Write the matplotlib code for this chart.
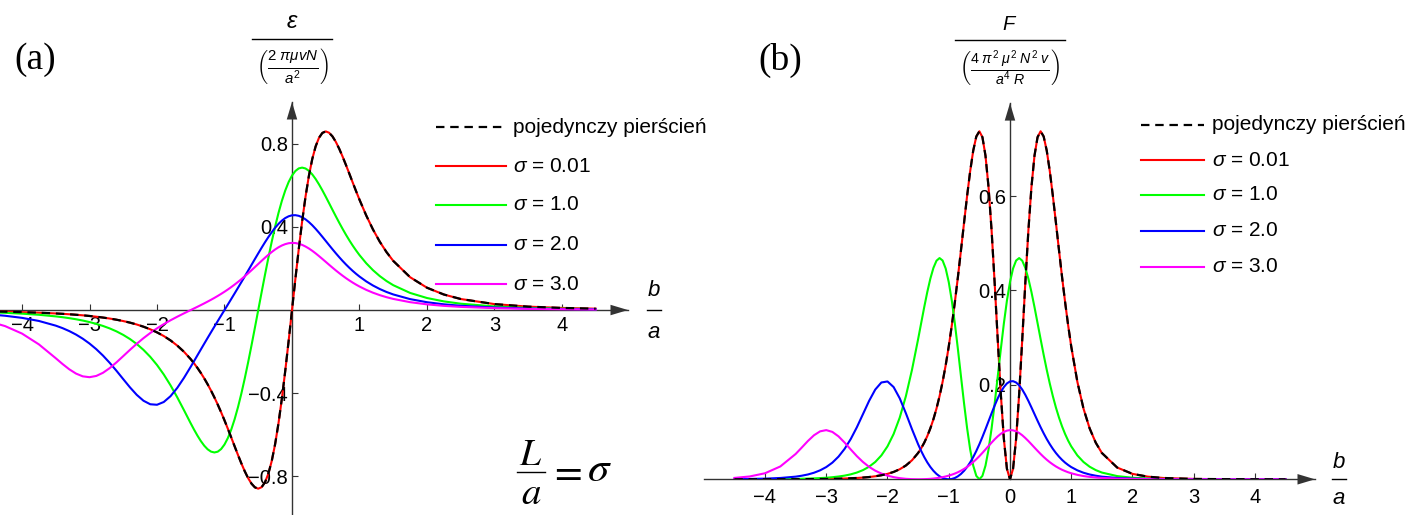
import matplotlib
matplotlib.use('Agg')
import matplotlib.pyplot as plt
from matplotlib.lines import Line2D

plt.rcParams['font.family'] = ['Liberation Sans', 'DejaVu Sans']
plt.rcParams['mathtext.fontset'] = 'custom'
plt.rcParams['mathtext.rm'] = 'Liberation Sans'
plt.rcParams['mathtext.it'] = 'Liberation Sans:italic'
plt.rcParams['mathtext.bf'] = 'Liberation Sans:bold'

# b/a positions shared by every curve
b = [-4.5, -4.25, -4.0, -3.75,
     -3.5, -3.4, -3.3, -3.2, -3.1, -3.0, -2.9, -2.8, -2.7, -2.6,
     -2.5, -2.4, -2.3, -2.2, -2.1, -2.0, -1.9, -1.8, -1.7, -1.6,
     -1.5, -1.4, -1.3, -1.2, -1.1, -1.0, -0.9, -0.8, -0.7, -0.6,
     -0.5, -0.4, -0.3, -0.2, -0.1, 0.0, 0.1, 0.2, 0.3, 0.4,
     0.5, 0.6, 0.7, 0.8, 0.9, 1.0, 1.1, 1.2, 1.3, 1.4, 1.5,
     1.75, 2.0, 2.25, 2.5, 3.0, 3.5, 4.0, 4.5]
# extra samples around the sharp central part
b_mid = [-1.45, -1.35, -1.25, -1.15, -1.05, -0.95, -0.85, -0.75, -0.65, -0.55,
         -0.45, -0.35, -0.25, -0.15, -0.05, 0.05, 0.15, 0.25, 0.35, 0.45,
         0.55, 0.65, 0.75, 0.85, 0.95]

# (a) energy, single ring and rings spread over L = sigma*a
eps_single = [-0.0065, -0.0080, -0.0101, -0.0128,
              -0.0164, -0.0182, -0.0203, -0.0227, -0.0254, -0.0285, -0.0320, -0.0362, -0.0409, -0.0465,
              -0.0530, -0.0606, -0.0695, -0.0801, -0.0925, -0.1073, -0.1249, -0.1459, -0.1709, -0.2007,
              -0.2363, -0.2786, -0.3286, -0.3871, -0.4545, -0.5303, -0.6126, -0.6968, -0.7749, -0.8345,
              -0.8587, -0.8280, -0.7256, -0.5440, -0.2926, 0.0, 0.2926, 0.5440, 0.7256, 0.8280,
              0.8587, 0.8345, 0.7749, 0.6968, 0.6126, 0.5303, 0.4545, 0.3871, 0.3286, 0.2786, 0.2363,
              0.1578, 0.1073, 0.0746, 0.0530, 0.0285, 0.0164, 0.0101, 0.0065]
eps_single_mid = [-0.2566, -0.3026, -0.3568, -0.4197, -0.4914, -0.5709, -0.6549, -0.7373, -0.8080, -0.8522,
                  -0.8514, -0.7865, -0.6445, -0.4257, -0.1491, 0.1491, 0.4257, 0.6445, 0.7865, 0.8514,
                  0.8522, 0.8080, 0.7373, 0.6549, 0.5709]
eps_s001 = eps_single
eps_s001_mid = eps_single_mid
eps_s1 = [-0.0105, -0.0134, -0.0174, -0.0228,
          -0.0305, -0.0344, -0.0390, -0.0443, -0.0505, -0.0578, -0.0664, -0.0765, -0.0884, -0.1026,
          -0.1195, -0.1395, -0.1633, -0.1915, -0.2249, -0.2641, -0.3096, -0.3616, -0.4195, -0.4816,
          -0.5449, -0.6040, -0.6521, -0.6805, -0.6808, -0.6464, -0.5745, -0.4667, -0.3289, -0.1699,
          0.0, 0.1699, 0.3289, 0.4667, 0.5745, 0.6464, 0.6808, 0.6805, 0.6521, 0.6040,
          0.5449, 0.4816, 0.4195, 0.3616, 0.3096, 0.2641, 0.2249, 0.1915, 0.1633, 0.1395, 0.1195,
          0.0822, 0.0578, 0.0416, 0.0305, 0.0174, 0.0105, 0.0067, 0.0045]
eps_s1_mid = [-0.5754, -0.6300, -0.6693, -0.6846, -0.6682, -0.6152, -0.5248, -0.4011, -0.2514, -0.0856,
              0.0856, 0.2514, 0.4011, 0.5248, 0.6152, 0.6682, 0.6846, 0.6693, 0.6300, 0.5754,
              0.5134, 0.4502, 0.3899, 0.3348, 0.2861]
eps_s2 = [-0.0205, -0.0275, -0.0376, -0.0525,
          -0.0750, -0.0869, -0.1011, -0.1179, -0.1377, -0.1610, -0.1880, -0.2190, -0.2540, -0.2921,
          -0.3322, -0.3718, -0.4077, -0.4360, -0.4529, -0.4553, -0.4421, -0.4142, -0.3742, -0.3258,
          -0.2724, -0.2171, -0.1616, -0.1069, -0.0531, 0.0, 0.0531, 0.1069, 0.1616, 0.2171,
          0.2724, 0.3258, 0.3742, 0.4142, 0.4421, 0.4553, 0.4529, 0.4360, 0.4077, 0.3718,
          0.3322, 0.2921, 0.2540, 0.2190, 0.1880, 0.1610, 0.1377, 0.1179, 0.1011, 0.0869, 0.0750,
          0.0525, 0.0376, 0.0275, 0.0205, 0.0120, 0.0075, 0.0049, 0.0033]
eps_s2_mid = [-0.2449, -0.1893, -0.1341, -0.0799, -0.0265, 0.0265, 0.0799, 0.1341, 0.1893, 0.2449,
              0.2995, 0.3508, 0.3955, 0.4298, 0.4506, 0.4560, 0.4461, 0.4230, 0.3904, 0.3522,
              0.3120, 0.2727, 0.2360, 0.2030, 0.1740]
eps_s3 = [-0.0535, -0.0773, -0.1131, -0.1650,
          -0.2316, -0.2593, -0.2848, -0.3054, -0.3187, -0.3228, -0.3168, -0.3016, -0.2789, -0.2514,
          -0.2214, -0.1912, -0.1621, -0.1351, -0.1104, -0.0880, -0.0678, -0.0493, -0.0321, -0.0158,
          0.0, 0.0158, 0.0321, 0.0493, 0.0678, 0.0880, 0.1104, 0.1351, 0.1621, 0.1912,
          0.2214, 0.2514, 0.2789, 0.3016, 0.3168, 0.3228, 0.3187, 0.3054, 0.2848, 0.2593,
          0.2316, 0.2038, 0.1774, 0.1532, 0.1318, 0.1131, 0.0970, 0.0833, 0.0717, 0.0618, 0.0535,
          0.0378, 0.0273, 0.0201, 0.0152, 0.0091, 0.0057, 0.0038, 0.0026]
eps_s3_mid = [0.0079, 0.0239, 0.0406, 0.0583, 0.0777, 0.0989, 0.1224, 0.1483, 0.1765, 0.2063,
              0.2366, 0.2656, 0.2911, 0.3103, 0.3211, 0.3220, 0.3132, 0.2959, 0.2725, 0.2456,
              0.2176, 0.1903, 0.1650, 0.1422, 0.1221]

# (b) force
F_single = [0.0000, 0.0001, 0.0001, 0.0002,
            0.0003, 0.0003, 0.0004, 0.0005, 0.0006, 0.0008, 0.0010, 0.0013, 0.0017, 0.0022,
            0.0028, 0.0037, 0.0048, 0.0064, 0.0086, 0.0115, 0.0156, 0.0213, 0.0292, 0.0403,
            0.0558, 0.0776, 0.1080, 0.1499, 0.2066, 0.2813, 0.3753, 0.4855, 0.6005, 0.6964,
            0.7373, 0.6856, 0.5264, 0.2959, 0.0856, 0.0, 0.0856, 0.2959, 0.5264, 0.6856,
            0.7373, 0.6964, 0.6005, 0.4855, 0.3753, 0.2813, 0.2066, 0.1499, 0.1080, 0.0776, 0.0558,
            0.0249, 0.0115, 0.0056, 0.0028, 0.0008, 0.0003, 0.0001, 0.0000]
F_single_mid = [0.0658, 0.0916, 0.1273, 0.1761, 0.2415, 0.3259, 0.4288, 0.5436, 0.6528, 0.7262,
                0.7248, 0.6187, 0.4154, 0.1812, 0.0222, 0.0222, 0.1812, 0.4154, 0.6187, 0.7248,
                0.7262, 0.6528, 0.5436, 0.4288, 0.3259]
F_s001 = F_single
F_s001_mid = F_single_mid
F_s1 = [0.0001, 0.0002, 0.0003, 0.0005,
        0.0009, 0.0012, 0.0015, 0.0020, 0.0026, 0.0033, 0.0044, 0.0059, 0.0078, 0.0105,
        0.0143, 0.0195, 0.0267, 0.0367, 0.0506, 0.0698, 0.0959, 0.1308, 0.1760, 0.2320,
        0.2969, 0.3649, 0.4252, 0.4631, 0.4635, 0.4179, 0.3301, 0.2178, 0.1082, 0.0289,
        0.0, 0.0289, 0.1082, 0.2178, 0.3301, 0.4179, 0.4635, 0.4631, 0.4252, 0.3649,
        0.2969, 0.2320, 0.1760, 0.1308, 0.0959, 0.0698, 0.0506, 0.0367, 0.0267, 0.0195, 0.0143,
        0.0068, 0.0033, 0.0017, 0.0009, 0.0003, 0.0001, 0.0000, 0.0000]
F_s1_mid = [0.3310, 0.3969, 0.4479, 0.4687, 0.4466, 0.3785, 0.2754, 0.1609, 0.0632, 0.0073,
            0.0073, 0.0632, 0.1609, 0.2754, 0.3785, 0.4466, 0.4687, 0.4479, 0.3969, 0.3310,
            0.2636, 0.2027, 0.1520, 0.1121, 0.0818]
F_s2 = [0.0004, 0.0008, 0.0014, 0.0028,
        0.0056, 0.0076, 0.0102, 0.0139, 0.0190, 0.0259, 0.0353, 0.0480, 0.0645, 0.0853,
        0.1103, 0.1382, 0.1662, 0.1901, 0.2051, 0.2073, 0.1954, 0.1715, 0.1400, 0.1061,
        0.0742, 0.0471, 0.0261, 0.0114, 0.0028, 0.0, 0.0028, 0.0114, 0.0261, 0.0471,
        0.0742, 0.1061, 0.1400, 0.1715, 0.1954, 0.2073, 0.2051, 0.1901, 0.1662, 0.1382,
        0.1103, 0.0853, 0.0645, 0.0480, 0.0353, 0.0259, 0.0190, 0.0139, 0.0102, 0.0076, 0.0056,
        0.0028, 0.0014, 0.0008, 0.0004, 0.0001, 0.0001, 0.0000, 0.0000]
F_s2_mid = [0.0600, 0.0358, 0.0180, 0.0064, 0.0007, 0.0007, 0.0064, 0.0180, 0.0358, 0.0600,
            0.0897, 0.1231, 0.1564, 0.1848, 0.2031, 0.2079, 0.1990, 0.1790, 0.1524, 0.1240,
            0.0974, 0.0744, 0.0557, 0.0412, 0.0303]
F_s3 = [0.0029, 0.0060, 0.0128, 0.0272,
        0.0536, 0.0672, 0.0811, 0.0933, 0.1016, 0.1042, 0.1004, 0.0910, 0.0778, 0.0632,
        0.0490, 0.0366, 0.0263, 0.0183, 0.0122, 0.0078, 0.0046, 0.0024, 0.0010, 0.0003,
        0.0, 0.0003, 0.0010, 0.0024, 0.0046, 0.0078, 0.0122, 0.0183, 0.0263, 0.0366,
        0.0490, 0.0632, 0.0778, 0.0910, 0.1004, 0.1042, 0.1016, 0.0933, 0.0811, 0.0672,
        0.0536, 0.0415, 0.0315, 0.0235, 0.0174, 0.0128, 0.0094, 0.0069, 0.0051, 0.0038, 0.0029,
        0.0014, 0.0007, 0.0004, 0.0002, 0.0001, 0.0000, 0.0000, 0.0000]
F_s3_mid = [0.0001, 0.0006, 0.0016, 0.0034, 0.0060, 0.0098, 0.0150, 0.0220, 0.0311, 0.0425,
            0.0560, 0.0706, 0.0847, 0.0963, 0.1031, 0.1037, 0.0981, 0.0875, 0.0742, 0.0603,
            0.0473, 0.0362, 0.0272, 0.0202, 0.0149]

labels = ['pojedynczy pierścień', r'$\sigma$ = 0.01', r'$\sigma$ = 1.0',
          r'$\sigma$ = 2.0', r'$\sigma$ = 3.0']
colors = ['black', '#ff0000', '#00ff00', '#0000ff', '#ff00ff']

a_xticks = [-4, -3, -2, -1, 1, 2, 3, 4]
a_yticks = [-0.8, -0.4, 0.4, 0.8]
b_xticks = [-4, -3, -2, -1, 0, 1, 2, 3, 4]
b_yticks = [0.2, 0.4, 0.6]

AXIS = '#333333'
DASH = (3.8, 2.6)
W, H = 1414, 515
fig = plt.figure(figsize=(W / 100, H / 100), dpi=100)


def fx(x):
    return x / W


def fy(y):
    return 1 - y / H


def px_rect(x0, y0, x1, y1):
    return [x0 / W, 1 - y1 / H, (x1 - x0) / W, (y1 - y0) / H]


def minus(s):
    return s.replace('-', '\u2212')


def merged(y, y_mid):
    pts = sorted(zip(b + b_mid, y + y_mid))
    return [p[0] for p in pts], [p[1] for p in pts]


def setup(ax, xt, yt, xpad, ypad):
    ax.patch.set_visible(False)
    for s in ('top', 'right'):
        ax.spines[s].set_visible(False)
    for s in ('left', 'bottom'):
        ax.spines[s].set_position(('data', 0))
        ax.spines[s].set_color(AXIS)
        ax.spines[s].set_linewidth(1.0)
    ax.set_xticks(xt)
    ax.set_xticklabels([minus('%d' % v) for v in xt])
    ax.set_yticks(yt)
    ax.set_yticklabels([minus('%.1f' % v) for v in yt])
    ax.tick_params(direction='in', length=4, width=0.8, color=AXIS,
                   labelsize=14.5, labelcolor='black')
    ax.tick_params(axis='x', pad=xpad)
    ax.tick_params(axis='y', pad=ypad)
    xr = ax.get_xlim()[1]
    yr = ax.get_ylim()[1]
    head = dict(arrowstyle='-|>,head_length=0.9,head_width=0.27', color=AXIS,
                lw=0, shrinkA=0, shrinkB=0, mutation_scale=14)
    ax.annotate('', xy=(xr, 0), xytext=(xr - 0.3, 0), arrowprops=head,
                annotation_clip=False)
    ax.annotate('', xy=(0, yr), xytext=(0, yr - 0.05), arrowprops=head,
                annotation_clip=False)


def curves(ax, series):
    for i in (1, 2, 3, 4):
        ax.plot(*merged(*series[i]), color=colors[i], lw=1.5, zorder=3)
    ax.plot(*merged(*series[0]), color='black', lw=1.6, dashes=DASH, zorder=4)


def legend(x0, x1, xt, ys):
    for i, y in enumerate(ys):
        ln = Line2D([fx(x0), fx(x1)], [fy(y), fy(y)], color=colors[i],
                    lw=1.6 if i == 0 else 1.5, transform=fig.transFigure)
        if i == 0:
            ln.set_dashes(DASH)
        fig.add_artist(ln)
        fig.text(fx(xt), fy(y), labels[i], ha='left', va='center', fontsize=15)


def bar(x0, x1, y, lw=1.0):
    fig.add_artist(Line2D([fx(x0), fx(x1)], [fy(y), fy(y)], color='black', lw=lw,
                          transform=fig.transFigure))


def stacked(xc, num, y_num, den, y_den, y_bar, half, size_num, size_den, **kw):
    fig.text(fx(xc), fy(y_num), num, ha='center', va='center', fontsize=size_num, **kw)
    bar(xc - half, xc + half, y_bar)
    fig.text(fx(xc), fy(y_den), den, ha='center', va='center', fontsize=size_den, **kw)


# panel (a)
ax1 = fig.add_axes(px_rect(0, 102, 628, 516))
ax1.set_xlim(-4.326, 4.978)
ax1.set_ylim(-0.990, 1.0)
setup(ax1, a_xticks, a_yticks, 4.5, 3)
curves(ax1, [(eps_single, eps_single_mid), (eps_s001, eps_s001_mid),
             (eps_s1, eps_s1_mid), (eps_s2, eps_s2_mid), (eps_s3, eps_s3_mid)])

# panel (b)
ax2 = fig.add_axes(px_rect(703.75, 103.1, 1315, 479.3))
ax2.set_xlim(-5.0, 4.98)
ax2.set_ylim(0, 0.797)
setup(ax2, b_xticks, b_yticks, 6.5, 3)
curves(ax2, [(F_single, F_single_mid), (F_s001, F_s001_mid),
             (F_s1, F_s1_mid), (F_s2, F_s2_mid), (F_s3, F_s3_mid)])

legend(436, 506, 513, [127, 166, 205, 244.5, 284])
legend(1141, 1204, 1212, [125, 160, 195, 230.5, 266.5])

# axis captions
stacked(292, r'$\varepsilon$', 22, r'$\left(\frac{2\ \pi \mu v N}{a^2}\right)$', 65.5,
        39, 40, 17, 15.5)
stacked(1010, r'$F$', 25, r'$\left(\frac{4\ \pi^2\ \mu^2\ N^2\ v}{a^4\ R}\right)$', 67.5,
        40, 55, 14.5, 14.5)
stacked(653.5, r'$b$', 291, r'$a$', 332, 310, 7, 16, 16)
stacked(1339, r'$b$', 462, r'$a$', 499, 479.3, 7, 16, 16)

# L/a = sigma
stacked(531, r'$L$', 455, r'$a$', 494, 472, 14, 27, 28, math_fontfamily='stix')
fig.text(fx(566), fy(472), r'$=$', ha='center', va='center', fontsize=29,
         math_fontfamily='stix')
fig.text(fx(599), fy(470), r'$\sigma$', ha='center', va='center', fontsize=31,
         math_fontfamily='stix')

fig.text(fx(14), fy(60), '(a)', family='Liberation Serif', fontsize=27, va='center')
fig.text(fx(758), fy(60), '(b)', family='Liberation Serif', fontsize=27, va='center')

fig.savefig('out.png', dpi=100)
